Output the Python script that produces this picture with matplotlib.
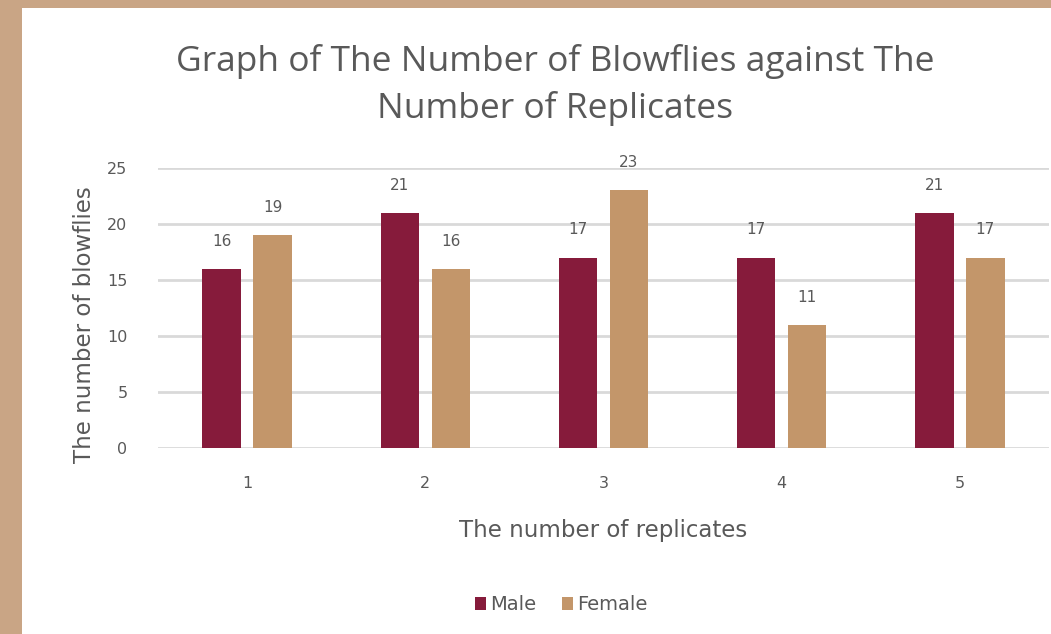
import matplotlib
matplotlib.use("Agg")
import matplotlib.pyplot as plt
import numpy as np
from matplotlib.patches import Rectangle

replicates = ["1", "2", "3", "4", "5"]
male = [16, 21, 17, 17, 21]
female = [19, 16, 23, 11, 17]
y_ticks = [0, 5, 10, 15, 20, 25]

male_color = "#861b3b"
female_color = "#c3966a"
text_gray = "#595959"
grid_gray = "#d9d9d9"

W, H = 1051, 634
fig = plt.figure(figsize=(W / 100, H / 100), dpi=100)
fig.patch.set_facecolor("white")

# tan frame on top and left edges
fig.patches.append(Rectangle((0, 0), 22 / W, 1, transform=fig.transFigure,
                             facecolor="#c9a585", edgecolor="none", zorder=0))
fig.patches.append(Rectangle((0, 1 - 8 / H), 1, 8 / H, transform=fig.transFigure,
                             facecolor="#c9a585", edgecolor="none", zorder=0))

ax = fig.add_axes([158 / W, 1 - 448 / H, (1049 - 158) / W, (448 - 168) / H])
x = np.arange(len(replicates))
bw = 0.215
off = 0.143
b1 = ax.bar(x - off, male, bw, color=male_color, label="Male", zorder=3)
b2 = ax.bar(x + off, female, bw, color=female_color, label="Female", zorder=3)

for bars, vals in ((b1, male), (b2, female)):
    for rect, v in zip(bars, vals):
        ax.text(rect.get_x() + rect.get_width() / 2, v + 1.8, str(v),
                ha="center", va="bottom", fontsize=11, color=text_gray,
                family="DejaVu Sans")

ax.set_xlim(-0.5, len(replicates) - 0.5)
ax.set_ylim(0, 25)
ax.set_yticks(y_ticks)
ax.set_xticks(x)
ax.set_xticklabels(replicates)
ax.yaxis.grid(True, color=grid_gray, linewidth=2, zorder=0)
ax.set_axisbelow(True)
for s in ax.spines.values():
    s.set_visible(False)
ax.tick_params(axis="both", length=0, colors=text_gray, labelsize=11.5)
ax.tick_params(axis="y", pad=22)
ax.tick_params(axis="x", pad=20)

ax.set_ylabel("The number of blowflies", fontsize=16.5, color=text_gray,
              family="DejaVu Sans", va="center")
ax.yaxis.set_label_coords(-0.082, 0.44)
ax.set_xlabel("The number of replicates", fontsize=16.5, color=text_gray,
              family="DejaVu Sans", labelpad=20)

fig.text(555 / W, 1 - 85 / H,
         "Graph of The Number of Blowflies against The\nNumber of Replicates",
         ha="center", va="center", fontsize=25.5, color=text_gray,
         family="Open Sans", linespacing=1.45)

ax.legend(loc="center", bbox_to_anchor=(561 / W, 1 - 605 / H),
          bbox_transform=fig.transFigure, ncol=2, frameon=False,
          prop={"family": "DejaVu Sans", "size": 14},
          handlelength=0.6, handleheight=0.6,
          handletextpad=0.2, columnspacing=1.3, labelcolor=text_gray)

fig.savefig("out.png", dpi=100, facecolor="white")
